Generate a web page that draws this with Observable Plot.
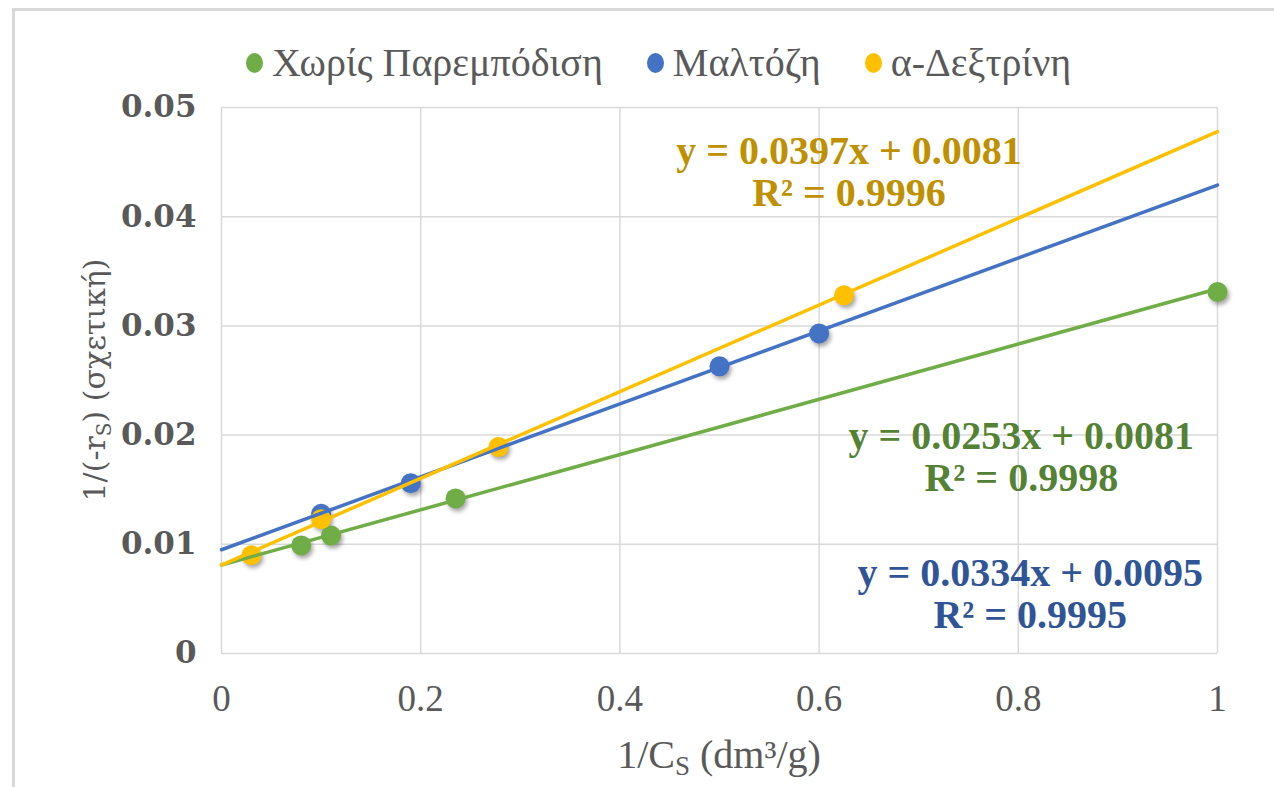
<!DOCTYPE html>
<html><head><meta charset="utf-8">
<script src="https://cdn.jsdelivr.net/npm/d3@7"></script>
<script src="https://cdn.jsdelivr.net/npm/@observablehq/plot@0.6"></script>
<style>
body{margin:0;background:#fff;}
#wrap{position:relative;width:1274px;height:787px;overflow:hidden;background:#fff;}
#frame{position:absolute;left:12px;top:8px;width:1300px;height:820px;border-left:3px solid #d9d9d9;border-top:3px solid #d9d9d9;box-sizing:border-box;pointer-events:none;}
#legend{height:80px;position:relative;font-family:"Liberation Serif",serif;font-size:40px;color:#595959;display:flex;align-items:center;padding-left:246px;box-sizing:border-box;gap:44px;padding-top:46px;}
.item{display:flex;align-items:center;white-space:nowrap;line-height:1;}
.sw{width:17px;height:20px;border-radius:50%;margin-right:9px;}
#chart svg{display:block;}
</style></head>
<body><div id="wrap"><div id="frame"></div><div id="legend"></div><div id="chart"></div></div>
<script>
const series = ["Χωρίς Παρεμπόδιση", "Μαλτόζη", "α-Δεξτρίνη"];
const colors = ["#70AD47", "#4472C4", "#FFC000"];
const labelColors = ["#548235", "#2F5597", "#BF9000"];
// measured points (1/Cs, 1/(-rs))
const xNone = [0.08, 0.11, 0.235, 1.0];
const yNone = [0.0099, 0.0108, 0.0142, 0.0331];
const xMalt = [0.10, 0.19, 0.50, 0.60];
const yMalt = [0.0128, 0.0156, 0.0263, 0.0293];
const xDex = [0.03, 0.10, 0.278, 0.625];
const yDex = [0.0090, 0.0123, 0.0189, 0.0328];
// trendline coefficients from the chart
const slopes = [0.0253, 0.0334, 0.0397];
const intercepts = [0.0081, 0.0095, 0.0081];
const r2 = ["0.9998", "0.9995", "0.9996"];
const xTicks = [0, 0.2, 0.4, 0.6, 0.8, 1];
const yTicks = [0, 0.01, 0.02, 0.03, 0.04, 0.05];

const xs = [xNone, xMalt, xDex], ys = [yNone, yMalt, yDex];
const points = series.flatMap((s, i) => xs[i].map((x, j) => ({series: s, x, y: ys[i][j]})));
const trend = series.flatMap((s, i) => [xTicks[0], xTicks[xTicks.length - 1]].map(x => ({series: s, x, y: slopes[i] * x + intercepts[i]})));
const eq = series.map((s, i) => ({series: s, text: `y = ${slopes[i]}x + ${intercepts[i]}\nR² = ${r2[i]}`}));

// legend
const leg = document.getElementById("legend");
series.forEach((s, i) => {
  const it = document.createElement("div"); it.className = "item";
  const sw = document.createElement("span"); sw.className = "sw"; sw.style.background = colors[i];
  const t = document.createElement("span"); t.textContent = s;
  it.append(sw, t); leg.append(it);
});

const serif = "Liberation Serif";
const eqMark = (i, x, y) => Plot.text([eq[i]], {x: () => x, y: () => y, text: "text", fill: labelColors[i], fontSize: 40, fontWeight: "bold", fontFamily: serif, lineHeight: 1.05, textAnchor: "middle"});

const chart = Plot.plot({
  width: 1274, height: 707,
  marginLeft: 221, marginRight: 57, marginTop: 27, marginBottom: 134,
  x: {domain: [0, 1]},
  y: {domain: [0, 0.05]},
  color: {domain: series, range: colors},
  marks: [
    Plot.gridX(xTicks, {stroke: "#d9d9d9", strokeOpacity: 1, strokeWidth: 1.5}),
    Plot.gridY(yTicks, {stroke: "#d9d9d9", strokeOpacity: 1, strokeWidth: 1.5}),
    Plot.axisX(xTicks, {tickSize: 0, tickPadding: 31, tickFormat: d => String(d), fontSize: 37, fontFamily: serif, fill: "#595959", label: null}),
    Plot.axisY(yTicks, {tickSize: 0, tickPadding: 25, tickFormat: d => String(d), fontSize: 31, fontFamily: "DejaVu Serif", fontWeight: "bold", fill: "#595959", label: null}),
    Plot.dot(points, {x: "x", y: "y", fill: "series", r: 10}),
    Plot.line(trend, {x: "x", y: "y", z: "series", stroke: "series", strokeWidth: 3.5}),
    eqMark(2, 0.63, 0.0441),
    eqMark(0, 0.803, 0.0180),
    eqMark(1, 0.812, 0.0055)
  ]
});
document.getElementById("chart").append(chart);
const svg = d3.select(chart);
svg.selectAll('g[aria-label="dot"]').style("filter", "drop-shadow(2px 3px 2px rgba(0,0,0,0.35))");

// axis titles
const yt = svg.append("text").attr("transform", "translate(105,300) rotate(-90)")
  .attr("text-anchor", "middle").attr("fill", "#595959").attr("font-family", "DejaVu Serif").attr("font-size", 30);
yt.append("tspan").text("1/(-r");
yt.append("tspan").text("S").attr("font-size", 20).attr("dy", 6);
yt.append("tspan").text(") (σχετική)").attr("dy", -6);

const xt = svg.append("text").attr("x", 719).attr("y", 688)
  .attr("text-anchor", "middle").attr("fill", "#595959").attr("font-family", serif).attr("font-size", 40);
xt.append("tspan").text("1/C");
xt.append("tspan").text("S").attr("font-size", 27).attr("dy", 7);
xt.append("tspan").text(" (dm³/g)").attr("dy", -7);
</script></body></html>
